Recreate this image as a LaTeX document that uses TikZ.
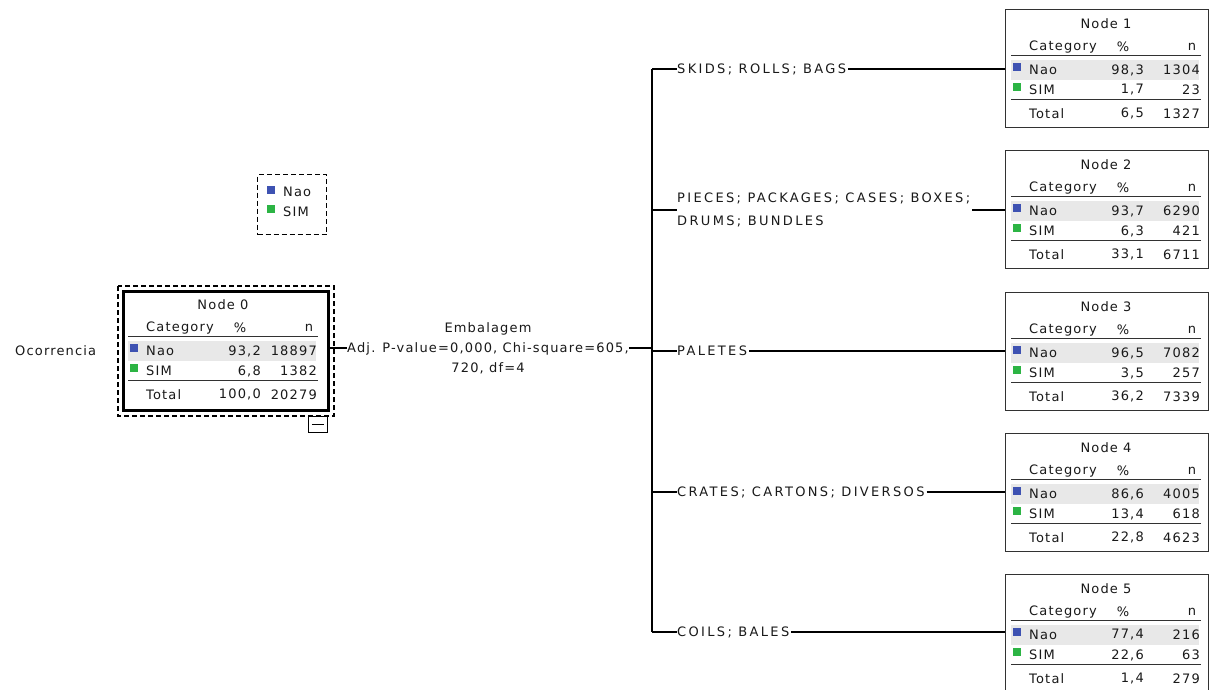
\documentclass[tikz,border=0pt]{standalone}
\usepackage{fontspec}
\newfontfamily\spss[LetterSpace=9]{DejaVu Sans}
\newfontfamily\spsscaps[LetterSpace=18]{DejaVu Sans}
\definecolor{naoblue}{RGB}{62,82,178}
\definecolor{simgreen}{RGB}{44,180,68}
\definecolor{rowgray}{RGB}{232,232,232}
\definecolor{edgegray}{RGB}{50,50,50}
\tikzset{
  txt/.style={inner sep=0pt, font=\spss\fontsize{13}{15}\selectfont, text=black!90},
  captxt/.style={inner sep=0pt, font=\spsscaps\fontsize{13}{15}\selectfont, text=black!90},
  ctbox/.style={draw=edgegray, line width=1.3pt, minimum width=203pt, minimum height=118pt, inner sep=0pt, anchor=north west},
  rootbox/.style={draw=black, line width=3pt, minimum width=205pt, minimum height=119pt, inner sep=0pt, anchor=north west},
  rulel/.style={draw=edgegray, line width=1.3pt},
  conn/.style={draw=black, line width=1.3pt},
  dashbox/.style={draw=black, line width=1.2pt, dash pattern=on 5pt off 3pt},
  swatch/.style={inner sep=0pt, minimum size=8pt, anchor=north west},
}
\newcommand\ctcontent[8]{%
  \begin{scope}[shift={(#1.north west)}]
    \fill[rowgray] (6,51) rectangle (194,71);
    \node[txt] (#1t) at (101,14.5) {#2};
    \node[txt, anchor=west] (#1c) at (24,38) {Category};
    \node[txt] (#1p) at (118,38) {\%};
    \node[txt] (#1n) at (187,38) {n};
    \draw[rulel] (6,46.5) -- (196,46.5);
    \node[swatch, fill=naoblue] (#1bq) at (8,54) {};
    \node[txt, anchor=west] (#1a) at (24,61) {Nao};
    \node[txt, anchor=east] (#1ap) at (139,61) {#3};
    \node[txt, anchor=east] (#1an) at (195,61) {#4};
    \node[swatch, fill=simgreen] (#1gq) at (8,74) {};
    \node[txt, anchor=west] (#1b) at (24,81) {SIM};
    \node[txt, anchor=east] (#1bp) at (139,81) {#5};
    \node[txt, anchor=east] (#1bn) at (195,81) {#6};
    \draw[rulel] (6,90.5) -- (196,90.5);
    \node[txt, anchor=west] (#1s) at (24,104.5) {Total};
    \node[txt, anchor=east] (#1sp) at (139,104.5) {#7};
    \node[txt, anchor=east] (#1sn) at (195,104.5) {#8};
  \end{scope}}
\begin{document}
\begin{tikzpicture}[x=1pt, y=-1pt]
  \useasboundingbox[fill=white] (0,0) rectangle (1210,690);

  % root
  \node[txt, anchor=west] (occ) at (15,351) {Ocorrencia};
  \node[rootbox] (n0) at (122,290) {};
  \draw[dashbox] ([shift={(-4,-4)}]n0.north west) rectangle ([shift={(4,4)}]n0.south east);
  \ctcontent{n0}{Node 0}{93,2}{18897}{6,8}{1382}{100,0}{20279}
  \node[draw=black, line width=1.2pt, minimum width=19pt, minimum height=16pt, inner sep=0pt, anchor=north east] (col) at ([shift={(-2,4)}]n0.south east) {};
  \draw[line width=1.2pt] ([xshift=-6pt]col.center) -- ([xshift=6pt]col.center);

  % legend
  \node[dashbox, minimum width=69pt, minimum height=60pt, inner sep=0pt, anchor=north west] (leg) at (257,174) {};
  \node[swatch, fill=naoblue] (legb) at (267,186) {};
  \node[txt, anchor=west] (legbt) at (283,192) {Nao};
  \node[swatch, fill=simgreen] (legg) at (267,205) {};
  \node[txt, anchor=west] (leggt) at (283,212) {SIM};

  % split label
  \node[txt, align=center, font=\spss\fontsize{13}{20}\selectfont] (emb) at (488,348)
    {Embalagem\\Adj. P-value=0,000, Chi-square=605,\\720, df=4};
  \coordinate (trunk) at (652,348);
  \draw[conn] (emb.west -| n0.east) -- (emb.west);
  \draw[conn] (emb.east) -- (trunk);

  % child nodes
  \node[ctbox] (n1) at (1005,9) {};
  \ctcontent{n1}{Node 1}{98,3}{1304}{1,7}{23}{6,5}{1327}
  \node[ctbox] (n2) at (1005,150) {};
  \ctcontent{n2}{Node 2}{93,7}{6290}{6,3}{421}{33,1}{6711}
  \node[ctbox] (n3) at (1005,292) {};
  \ctcontent{n3}{Node 3}{96,5}{7082}{3,5}{257}{36,2}{7339}
  \node[ctbox] (n4) at (1005,433) {};
  \ctcontent{n4}{Node 4}{86,6}{4005}{13,4}{618}{22,8}{4623}
  \node[ctbox] (n5) at (1005,574) {};
  \ctcontent{n5}{Node 5}{77,4}{216}{22,6}{63}{1,4}{279}

  % branch labels
  \node[captxt, anchor=west] (l1) at (677,69) {SKIDS; ROLLS; BAGS};
  \node[captxt, anchor=west, align=left, font=\spsscaps\fontsize{13}{23}\selectfont] (l2) at (677,210)
    {PIECES; PACKAGES; CASES; BOXES;\\DRUMS; BUNDLES};
  \node[captxt, anchor=west] (l3) at (677,351) {PALETES};
  \node[captxt, anchor=west] (l4) at (677,492) {CRATES; CARTONS; DIVERSOS};
  \node[captxt, anchor=west] (l5) at (677,632) {COILS; BALES};

  \draw[conn] (trunk |- l1) -- (trunk |- l5);
  \foreach \k in {1,...,5}{
    \draw[conn] (trunk |- l\k) -- (l\k.west);
    \draw[conn] ([xshift=2pt]l\k.east) -- (n\k.west |- l\k);
  }
\end{tikzpicture}
\end{document}
